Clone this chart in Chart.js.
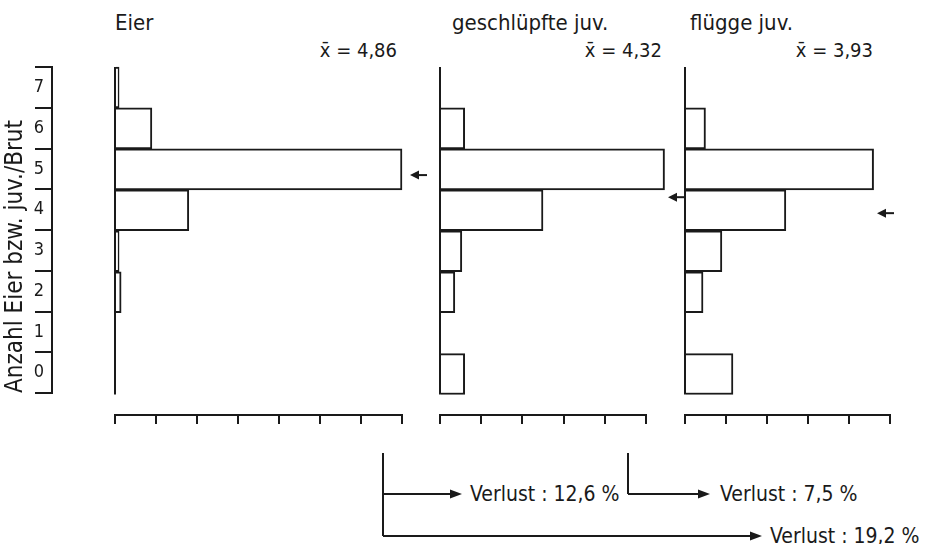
<!DOCTYPE html>
<html>
<head>
<meta charset="utf-8">
<script src="https://cdn.jsdelivr.net/npm/chart.js@4.4.1/dist/chart.umd.min.js"></script>
<style>
  html, body { margin: 0; padding: 0; background: #fff; }
  #wrap { position: relative; width: 925px; height: 544px; overflow: hidden; }
  #wrap canvas, #wrap svg { position: absolute; }
  svg text { font-family: 'DejaVu Sans Condensed', 'DejaVu Sans', sans-serif; font-stretch: condensed; fill: #1a1a1a; }
</style>
</head>
<body>
<div id="wrap">
  <svg id="notes" width="925" height="544" style="left:0;top:0"></svg>
  <canvas id="axisChart" width="60" height="346" style="left:0;top:57px"></canvas>
  <canvas id="eierChart" width="332" height="373" style="left:105px;top:57px"></canvas>
  <canvas id="geschlChart" width="256" height="373" style="left:430px;top:57px"></canvas>
  <canvas id="flueggeChart" width="230" height="373" style="left:675px;top:57px"></canvas>
</div>
<script>
// Daten: Anteil der Bruten (%) je Klasse (Anzahl Eier bzw. juv. pro Brut)
const classLabels = ['7', '6', '5', '4', '3', '2', '1', '0'];
const classValues = [7, 6, 5, 4, 3, 2, 1, 0];
const eierPct = [1, 9, 70, 18, 1, 1.5, 0, 0];
const geschluepftPct = [0, 6, 54.5, 25, 5.3, 3.6, 0, 6];
const flueggePct = [0, 5, 46, 24.6, 9, 4.4, 0, 11.7];
const means = [4.86, 4.32, 3.93];
const panelTitles = ['Eier', 'geschlüpfte juv.', 'flügge juv.'];
const axisMax = [70, 50, 50];
const lossValues = [12.6, 7.5, 19.2];
const yTitle = 'Anzahl Eier bzw. juv./Brut';

const ink = '#1a1a1a';
const fontFamily = "'DejaVu Sans Condensed', 'DejaVu Sans', sans-serif";

// Nulllinie über den Klassenbereich
const zeroLinePlugin = {
    id: 'zeroLine',
    afterDatasetsDraw(chart) {
        const { ctx, scales: { x, y } } = chart;
        const px = x.getPixelForValue(0);
        ctx.save();
        ctx.strokeStyle = ink;
        ctx.lineWidth = 2;
        ctx.beginPath();
        ctx.moveTo(px, y.getPixelForValue(7.5));
        ctx.lineTo(px, y.getPixelForValue(-0.5));
        ctx.stroke();
        ctx.restore();
    }
};

// Pfeil beim Mittelwert
const meanArrowPlugin = {
    id: 'meanArrow',
    afterDatasetsDraw(chart, args, opts) {
        const { ctx, chartArea, scales: { y } } = chart;
        const py = y.getPixelForValue(opts.value);
        const tip = chartArea.right + opts.offset;
        ctx.save();
        ctx.strokeStyle = ink;
        ctx.fillStyle = ink;
        ctx.lineWidth = 2;
        ctx.beginPath();
        ctx.moveTo(tip + 6, py);
        ctx.lineTo(tip + 17, py);
        ctx.stroke();
        ctx.beginPath();
        ctx.moveTo(tip, py);
        ctx.lineTo(tip + 9, py - 4.5);
        ctx.lineTo(tip + 9, py + 4.5);
        ctx.closePath();
        ctx.fill();
        ctx.restore();
    }
};

// Achse mit Klassen 0-7
new Chart(document.getElementById('axisChart'), {
    type: 'bar',
    data: { labels: classLabels, datasets: [] },
    options: {
        indexAxis: 'y',
        responsive: false,
        animation: false,
        layout: { padding: { top: 10, bottom: 10, left: 0, right: 0 } },
        plugins: { legend: { display: false }, tooltip: { enabled: false } },
        scales: {
            x: { display: false },
            y: {
                type: 'category',
                position: 'left',
                offset: true,
                grid: { offset: true, drawOnChartArea: false, tickLength: 17, color: ink, lineWidth: 2 },
                border: { display: true, color: ink, width: 2 },
                ticks: { padding: -9, color: ink, font: { family: fontFamily, size: 18 } },
                title: {
                    display: true, text: yTitle, align: 'start', color: ink,
                    padding: { top: 1, bottom: 0 },
                    font: { family: fontFamily, size: 24 }
                },
                afterFit: (s) => { s.width = 52; }
            }
        }
    }
});

function makePanel(id, values, max, mean, arrowOffset, padRight) {
    return new Chart(document.getElementById(id), {
        type: 'bar',
        data: {
            datasets: [{
                data: classValues.map((c, i) => ({ y: c, x: values[i] })),
                backgroundColor: '#fff',
                borderColor: ink,
                borderWidth: 2,
                borderSkipped: 'start',
                barPercentage: 1,
                categoryPercentage: 1,
                clip: false
            }]
        },
        options: {
            indexAxis: 'y',
            responsive: false,
            animation: false,
            layout: { padding: { left: 10, right: padRight, top: 10, bottom: 6 } },
            plugins: {
                legend: { display: false },
                tooltip: { enabled: false },
                meanArrow: { value: mean, offset: arrowOffset }
            },
            scales: {
                y: {
                    type: 'linear', min: -1, max: 7.5, offset: false, display: false,
                    afterBuildTicks: (s) => { s.ticks = classValues.map(v => ({ value: v })); }
                },
                x: {
                    type: 'linear', min: 0, max: max,
                    ticks: { stepSize: 10, display: false },
                    grid: { drawOnChartArea: false, drawTicks: true, tickLength: 9, color: ink, lineWidth: 2 },
                    border: { display: true, color: ink, width: 2 }
                }
            }
        },
        plugins: [zeroLinePlugin, meanArrowPlugin]
    });
}

makePanel('eierChart', eierPct, axisMax[0], means[0], 8, 35);
makePanel('geschlChart', geschluepftPct, axisMax[1], means[1], 22, 40);
makePanel('flueggeChart', flueggePct, axisMax[2], means[2], -13, 15);

// Beschriftungen und Verlust-Pfeile
const svg = document.getElementById('notes');
const NS = 'http://www.w3.org/2000/svg';
function add(tag, attrs, text) {
    const el = document.createElementNS(NS, tag);
    Object.entries(attrs).forEach(([k, v]) => el.setAttribute(k, v));
    if (text !== undefined) el.textContent = text;
    svg.appendChild(el);
    return el;
}
const fmt = (v, d) => v.toFixed(d).replace('.', ',');

const titleX = [115, 452, 690];
const meanRight = [397, 662, 873];
panelTitles.forEach((t, i) => {
    add('text', { x: titleX[i], y: 30, 'font-size': 22, 'xml:space': 'preserve' }, t.replace(' ', '  '));
    add('text', { x: meanRight[i], y: 57, 'font-size': 20, 'text-anchor': 'end' }, 'x\u0304 = ' + fmt(means[i], 2));
});

function arrow(x1, y, tip) {
    add('path', { d: `M${x1},${y} H${tip - 10}`, stroke: ink, 'stroke-width': 2, fill: 'none' });
    add('path', { d: `M${tip},${y} L${tip - 12},${y - 4.5} L${tip - 12},${y + 4.5} Z`, fill: ink });
}
add('path', { d: 'M383,453 V536', stroke: ink, 'stroke-width': 2, fill: 'none' });
add('path', { d: 'M628,453 V494', stroke: ink, 'stroke-width': 2, fill: 'none' });
arrow(383, 494, 462);
arrow(628, 494, 710);
arrow(383, 536, 762);
const lossPos = [[470, 501], [720, 501], [770, 543]];
lossValues.forEach((v, i) => {
    add('text', { x: lossPos[i][0], y: lossPos[i][1], 'font-size': 21, 'xml:space': 'preserve' }, 'Verlust :  ' + fmt(v, 1) + ' %');
});
</script>
</body>
</html>
